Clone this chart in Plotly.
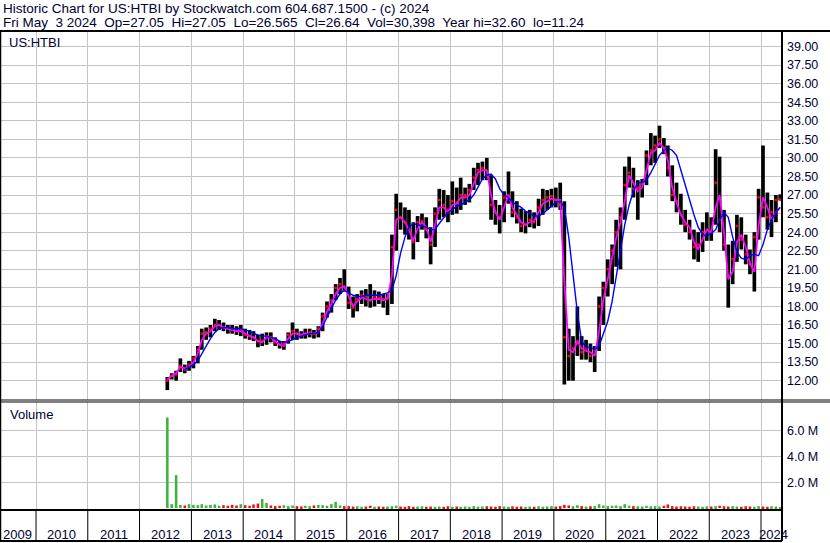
import pandas as pd
import plotly.graph_objects as go

# monthly bars, Jul 2012 .. May 2024
FIRST_MONTH = "2012-07-01"

HIGH = [
    12.3, 12.6, 12.8, 13.8, 13.3, 13.6,
    14.0, 14.8, 16.2, 16.3, 16.5, 17.0, 16.9, 16.7, 16.5, 16.5, 16.4, 16.5,
    16.2, 16.1, 16.0, 15.7, 15.8, 15.9, 15.9, 15.5, 15.2, 15.2, 15.9, 16.7,
    16.2, 16.0, 16.2, 16.2, 16.1, 16.4, 17.5, 18.4, 19.0, 19.8, 20.3, 21.0,
    19.6, 18.8, 19.0, 19.3, 19.4, 19.8, 19.3, 19.2, 19.0, 19.0, 23.8, 27.1,
    26.4, 26.0, 25.8, 24.8, 25.3, 25.5, 25.2, 24.4, 26.0, 27.5, 27.4, 27.0,
    28.1, 27.6, 28.4, 27.6, 27.9, 29.2, 29.6, 29.7, 30.0, 28.6, 26.6, 26.2,
    27.3, 28.9, 27.3, 26.5, 25.9, 25.7, 25.8, 25.6, 26.7, 27.5, 27.4, 27.5,
    27.6, 28.0, 26.5, 16.2, 15.6, 18.0, 15.6, 15.3, 15.0, 14.8, 18.8, 20.0,
    21.8, 23.0, 25.0, 26.0, 29.3, 30.1, 29.2, 28.2, 28.3, 30.6, 32.0, 31.8,
    32.6, 31.6, 31.0, 29.4, 28.0, 27.1, 25.8, 25.0, 24.2, 24.0, 24.8, 25.6,
    25.2, 30.7, 30.1, 25.8, 23.0, 23.3, 25.4, 25.2, 23.8, 22.6, 24.0, 27.5,
    31.0, 27.2, 26.6, 27.0, 27.05,
]
LOW = [
    11.24, 12.1, 12.0, 12.7, 12.6, 12.8,
    13.0, 13.4, 14.5, 15.3, 15.5, 16.0, 16.1, 16.0, 15.8, 15.8, 15.7, 15.6,
    15.4, 15.3, 15.2, 14.7, 14.8, 14.9, 15.1, 14.8, 14.6, 14.5, 15.0, 15.3,
    15.3, 15.4, 15.4, 15.5, 15.4, 15.5, 16.0, 17.1, 17.5, 18.5, 19.0, 19.2,
    17.8, 17.1, 17.6, 18.2, 18.0, 17.9, 18.0, 18.2, 17.9, 17.3, 18.2, 22.5,
    24.2, 23.8, 23.4, 21.8, 23.2, 24.2, 23.5, 21.4, 22.8, 25.0, 25.2, 24.8,
    25.4, 25.5, 25.8, 26.2, 26.4, 27.4, 27.8, 28.2, 28.2, 25.0, 24.6, 23.9,
    24.8, 26.3, 25.2, 24.7, 24.0, 23.9, 24.4, 24.3, 24.5, 25.4, 25.8, 26.0,
    26.0, 25.8, 11.7, 12.0, 12.0, 14.0, 13.7, 13.7, 13.5, 12.7, 14.4, 16.5,
    18.8, 19.8, 21.2, 21.0, 25.0, 27.6, 26.8, 25.0, 26.8, 27.8, 29.4, 29.6,
    30.8, 30.3, 28.5, 26.5, 25.6, 24.6, 24.0, 23.4, 21.8, 21.6, 22.4, 23.3,
    23.3, 24.6, 24.0, 22.5, 17.9, 19.8, 21.6, 22.6, 21.4, 20.6, 19.2, 23.4,
    25.2, 24.2, 23.6, 24.8, 26.565,
]
CLOSE = [
    12.0, 12.4, 12.5, 13.2, 12.9, 13.3,
    13.8, 14.5, 15.8, 15.9, 16.2, 16.5, 16.5, 16.3, 16.2, 16.1, 16.0, 16.1,
    15.7, 15.6, 15.5, 15.2, 15.2, 15.6, 15.5, 15.1, 14.9, 15.0, 15.7, 16.0,
    15.8, 15.7, 15.8, 15.9, 15.8, 16.2, 17.2, 18.0, 18.5, 19.5, 19.8, 19.6,
    18.3, 17.9, 18.6, 18.9, 18.8, 18.5, 18.8, 18.7, 18.6, 18.7, 22.8, 25.8,
    25.2, 24.8, 24.2, 23.2, 24.8, 24.9, 24.2, 23.0, 25.5, 26.6, 26.2, 25.8,
    26.5, 26.4, 27.0, 27.0, 27.4, 28.4, 29.0, 29.2, 28.6, 26.2, 25.6, 25.2,
    26.8, 27.0, 25.6, 25.2, 24.5, 24.6, 25.0, 24.8, 26.0, 26.6, 26.8, 26.9,
    26.6, 26.2, 15.5, 14.0, 14.6, 15.2, 14.3, 14.6, 14.0, 14.5, 18.0, 19.5,
    21.0, 22.5, 24.0, 25.2, 27.8, 28.8, 27.5, 27.6, 27.9, 30.2, 30.6, 31.0,
    31.5, 30.8, 29.2, 27.0, 26.5, 25.4, 24.6, 24.0, 22.8, 23.0, 24.0, 24.2,
    24.0, 28.0, 25.0, 23.0, 20.5, 21.8, 24.5, 23.4, 22.2, 21.4, 23.6, 26.8,
    26.0, 25.2, 25.6, 26.6, 26.64,
]
MA_SHORT = [
    12.1, 12.4, 12.6, 13.1, 13.0, 13.1,
    13.5, 14.2, 15.3, 15.8, 16.0, 16.4, 16.5, 16.3, 16.2, 16.1, 16.0, 16.0,
    15.8, 15.6, 15.5, 15.2, 15.1, 15.5, 15.5, 15.2, 14.9, 14.8, 15.4, 15.8,
    15.8, 15.7, 15.8, 15.8, 15.8, 15.9, 16.6, 17.6, 18.2, 19.0, 19.5, 19.6,
    18.8, 18.0, 18.4, 18.7, 18.6, 18.5, 18.6, 18.6, 18.5, 18.6, 20.5, 25.0,
    25.2, 24.8, 24.2, 23.3, 24.3, 24.8, 24.4, 23.2, 24.6, 26.0, 26.0, 25.6,
    26.2, 26.3, 26.8, 26.8, 27.0, 28.0, 28.8, 29.0, 29.0, 27.0, 25.6, 25.0,
    26.0, 27.0, 26.0, 25.4, 24.8, 24.6, 24.8, 24.9, 25.6, 26.3, 26.5, 26.7,
    26.6, 26.6, 20.0, 14.5, 14.3, 15.2, 14.6, 14.4, 14.3, 14.0, 16.0, 18.5,
    20.2, 21.8, 23.5, 24.8, 26.5, 28.6, 28.0, 27.3, 27.6, 29.0, 30.4, 30.6,
    31.2, 30.8, 29.8, 27.6, 26.4, 25.4, 24.8, 24.4, 23.2, 22.6, 23.4, 24.2,
    24.0, 26.0, 27.0, 24.0, 20.2, 20.8, 23.2, 23.8, 22.8, 21.5, 20.8, 24.5,
    26.8, 26.0, 25.0, 25.6, 26.0,
]
MA_LONG = [
    None, None, None, None, 12.9, 13.1,
    13.3, 13.6, 14.2, 14.8, 15.4, 15.9, 16.2, 16.3, 16.3, 16.2, 16.2, 16.2,
    16.1, 16.0, 15.8, 15.7, 15.6, 15.6, 15.5, 15.4, 15.2, 15.1, 15.2, 15.3,
    15.5, 15.6, 15.7, 15.8, 15.8, 15.9, 16.4, 17.1, 17.8, 18.5, 19.0, 19.3,
    19.1, 18.9, 18.8, 18.8, 18.9, 18.9, 18.9, 18.9, 19.0, 19.1, 19.3, 20.5,
    22.3, 23.6, 24.4, 24.7, 24.6, 24.5, 24.4, 24.2, 24.2, 24.7, 25.2, 25.6,
    25.8, 26.1, 26.2, 26.4, 26.6, 27.0, 27.7, 28.3, 28.6, 28.7, 28.3, 27.5,
    27.0, 26.8, 26.4, 26.2, 26.0, 25.7, 25.5, 25.3, 25.3, 25.5, 25.8, 26.1,
    26.4, 26.5, 26.0, 23.6, 20.5, 17.5, 15.2, 14.7, 14.7, 14.5, 14.8, 15.8,
    16.8, 18.4, 20.2, 22.5, 24.6, 26.2, 27.3, 28.0, 28.0, 28.2, 28.8, 29.5,
    30.2, 30.6, 30.8, 30.6, 30.2, 29.0, 27.8, 26.5, 25.4, 24.4, 23.8, 23.7,
    23.9, 24.2, 25.0, 25.6, 25.2, 23.6, 22.4, 21.9, 21.8, 22.1, 22.2, 22.1,
    23.0, 24.2, 25.0, 25.6, 26.0,
]
# biggest daily volume seen in each month, thousands of shares
VOLUME_K = [
    7000, 300, 2550, 250, 200, 300,
    250, 220, 300, 200, 250, 280, 180, 220, 180, 250, 200, 300,
    220, 180, 280, 350, 700, 400, 200, 150, 180, 220, 150, 200,
    150, 120, 180, 150, 200, 250, 220, 180, 300, 480, 200, 150,
    150, 120, 140, 100, 120, 180, 100, 120, 100, 120, 150, 180,
    120, 100, 150, 100, 120, 140, 100, 120, 100, 120, 100, 140,
    100, 120, 100, 120, 100, 150, 100, 120, 140, 120, 100, 150,
    120, 100, 140, 100, 120, 100, 120, 100, 140, 100, 120, 150,
    120, 150, 250, 200, 150, 220, 150, 120, 140, 150, 300, 200,
    150, 180, 200, 150, 300, 180, 150, 140, 120, 180, 140, 150,
    120, 180, 280, 150, 120, 140, 120, 100, 140, 120, 100, 140,
    120, 150, 180, 140, 120, 150, 120, 100, 140, 120, 100, 150,
    120, 100, 140, 120, 50,
]

PRICE_TICKS = [12.0, 13.5, 15.0, 16.5, 18.0, 19.5, 21.0, 22.5, 24.0, 25.5,
               27.0, 28.5, 30.0, 31.5, 33.0, 34.5, 36.0, 37.5, 39.0]
VOLUME_TICKS = [2_000_000, 4_000_000, 6_000_000]
VOLUME_TICK_TEXT = ["2.0 M", "4.0 M", "6.0 M"]
YEAR_LABELS = [str(y) for y in range(2009, 2025)]

TITLE_1 = "Historic Chart for US:HTBI by Stockwatch.com 604.687.1500 - (c) 2024"
TITLE_2 = ("Fri May\u00a0 3 2024\u00a0 Op=27.05\u00a0 Hi=27.05\u00a0 Lo=26.565\u00a0 "
           "Cl=26.64\u00a0 Vol=30,398\u00a0 Year hi=32.60\u00a0 lo=11.24")

FONT = "Liberation Sans, Arial, sans-serif"
INK = "#000033"
GRID = "#c4c4c4"

W, H = 830, 543
ML, MR, MT, MB = 1, 48, 31, 33
PW, PH = W - ML - MR, H - MT - MB


def px_x(x):
    return (x - ML) / PW


def px_y(y):
    return (H - MB - y) / PH


months = pd.date_range(FIRST_MONTH, periods=len(HIGH), freq="MS") + pd.Timedelta(days=14)
day_ms = 86_400_000

vol_colors = []
for i, c in enumerate(CLOSE):
    prev = CLOSE[i - 1] if i else 0
    vol_colors.append("#3cb43c" if c >= prev else "#ee1111")

fig = go.Figure()

fig.add_trace(go.Bar(
    x=months, y=[h - l for h, l in zip(HIGH, LOW)], base=LOW,
    width=26 * day_ms, marker=dict(color="black", line_width=0),
    xaxis="x", yaxis="y",
))
fig.add_trace(go.Scatter(
    x=months, y=CLOSE, mode="markers",
    marker=dict(symbol="square", size=2.5, color="#ff0000", line_width=0),
    xaxis="x", yaxis="y",
))
fig.add_trace(go.Scatter(
    x=months, y=MA_SHORT, mode="lines", line=dict(color="#ff00ff", width=1.8),
    xaxis="x", yaxis="y",
))
fig.add_trace(go.Scatter(
    x=months, y=MA_LONG, mode="lines", line=dict(color="#0000ff", width=1.4),
    xaxis="x", yaxis="y",
))
fig.add_trace(go.Bar(
    x=months, y=[v * 1000 for v in VOLUME_K], width=18 * day_ms,
    marker=dict(color=vol_colors, line_width=0),
    xaxis="x2", yaxis="y2",
))

x_common = dict(
    type="date", range=["2009-04-29", "2024-05-28"],
    tick0="2010-01-01", dtick="M12", showgrid=True, gridcolor=GRID, gridwidth=1,
    showticklabels=False, ticks="", zeroline=False, showline=False, fixedrange=True,
)
tick_font = dict(family=FONT, size=12.5, color=INK)

fig.update_layout(
    width=W, height=H,
    margin=dict(l=ML, r=MR, t=MT, b=MB, pad=0, autoexpand=False),
    paper_bgcolor="white", plot_bgcolor="white",
    showlegend=False, hovermode=False, barmode="overlay",
    xaxis=dict(**x_common, anchor="y"),
    xaxis2=dict(**x_common, anchor="y2", matches="x"),
    yaxis=dict(
        domain=[px_y(400), 1], range=[10.44, 40.25], side="right",
        tickvals=PRICE_TICKS, tickformat=".2f", showgrid=True, gridcolor=GRID,
        zeroline=False, ticks="", ticklabelstandoff=4, tickfont=tick_font,
    ),
    yaxis2=dict(
        domain=[0, px_y(402)], range=[-150_000, 8_200_000], side="right",
        tickvals=VOLUME_TICKS, ticktext=VOLUME_TICK_TEXT, showgrid=True,
        gridcolor=GRID, zeroline=False, ticks="", ticklabelstandoff=4,
        tickfont=tick_font,
    ),
)

shapes = [
    # header rule and panel frames
    dict(type="line", xref="paper", yref="paper", x0=px_x(0), x1=px_x(830),
         y0=px_y(31), y1=px_y(31), line=dict(color="black", width=2)),
    dict(type="line", xref="paper", yref="paper", x0=px_x(0), x1=px_x(830),
         y0=px_y(400), y1=px_y(400), line=dict(color="black", width=1)),
    dict(type="line", xref="paper", yref="paper", x0=px_x(0), x1=px_x(830),
         y0=px_y(402), y1=px_y(402), line=dict(color="black", width=1)),
    dict(type="line", xref="paper", yref="paper", x0=px_x(0), x1=px_x(782),
         y0=px_y(510), y1=px_y(510), line=dict(color="black", width=2)),
    dict(type="line", xref="paper", yref="paper", x0=px_x(0), x1=px_x(782),
         y0=px_y(541), y1=px_y(541), line=dict(color="black", width=2)),
    dict(type="line", xref="paper", yref="paper", x0=px_x(0.5), x1=px_x(0.5),
         y0=px_y(541), y1=px_y(31), line=dict(color="black", width=1.5)),
    dict(type="line", xref="paper", yref="paper", x0=px_x(782), x1=px_x(782),
         y0=px_y(541), y1=px_y(31), line=dict(color="black", width=2)),
]
for label in YEAR_LABELS[1:]:
    shapes.append(dict(type="line", xref="x", yref="paper",
                       x0=f"{label}-01-01", x1=f"{label}-01-01",
                       y0=px_y(541), y1=px_y(510), line=dict(color="black", width=1)))
fig.update_layout(shapes=shapes)

text_font = dict(family=FONT, size=13, color=INK)
head_font = dict(family=FONT, size=13.5, color=INK)
notes = [
    dict(text=TITLE_1, xref="paper", yref="paper", x=px_x(2), y=px_y(8.5),
         xanchor="left", yanchor="middle", font=head_font),
    dict(text=TITLE_2, xref="paper", yref="paper", x=px_x(2), y=px_y(22.5),
         xanchor="left", yanchor="middle", font=head_font),
    dict(text="US:HTBI", xref="paper", yref="paper", x=px_x(8), y=px_y(42),
         xanchor="left", yanchor="middle"),
    dict(text="Volume", xref="paper", yref="paper", x=px_x(9), y=px_y(414),
         xanchor="left", yanchor="middle"),
]
for label in YEAR_LABELS:
    if label == "2009":
        notes.append(dict(text=label, xref="paper", yref="paper", x=px_x(2),
                          y=px_y(534), xanchor="left", yanchor="middle"))
    elif label == "2024":
        notes.append(dict(text=label, xref="x", yref="paper", x=f"{label}-01-01",
                          xshift=-3, y=px_y(534), xanchor="left", yanchor="middle"))
    else:
        notes.append(dict(text=label, xref="x", yref="paper", x=f"{label}-07-02",
                          y=px_y(534), xanchor="center", yanchor="middle"))
for n in notes:
    n.setdefault("font", text_font)
    n.update(showarrow=False, borderpad=0)
fig.update_layout(annotations=notes)

# the page's default body margin would shift the 830x543 figure
fig.write_html("out.html", config={"displayModeBar": False},
               post_script="document.body.style.margin='0';")
